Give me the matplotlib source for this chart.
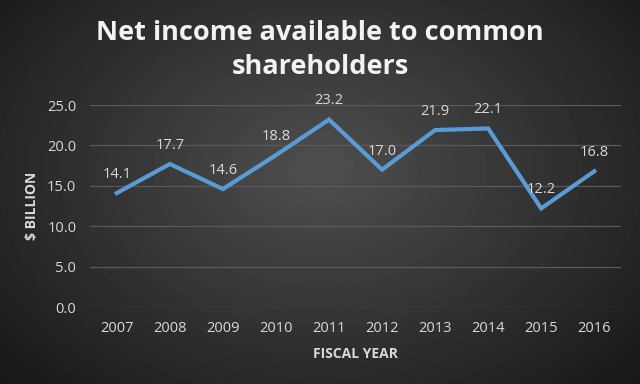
import matplotlib
matplotlib.use("Agg")
import matplotlib.pyplot as plt
import numpy as np

years = ["2007", "2008", "2009", "2010", "2011", "2012", "2013", "2014", "2015", "2016"]
net_income = [14.1, 17.7, 14.6, 18.8, 23.2, 17.0, 21.9, 22.1, 12.2, 16.8]
y_ticks = [0, 5, 10, 15, 20, 25]

plt.rcParams["font.family"] = ["Open Sans", "DejaVu Sans"]
text_color = "#d9d9d9"

fig = plt.figure(figsize=(6.4, 3.84), dpi=100)

# radial gradient background
bg = fig.add_axes([0, 0, 1, 1], zorder=0)
yy, xx = np.mgrid[0:384, 0:640]
r = np.sqrt(((xx - 320) / 420) ** 2 + ((yy - 170) / 300) ** 2)
shade = np.clip(0.31 - 0.21 * r, 0.08, 0.31)
bg.imshow(shade, cmap="gray", vmin=0, vmax=1, aspect="auto", extent=[0, 1, 0, 1])
bg.axis("off")

ax = fig.add_axes([0.141, 0.2005, 0.829, 0.526], zorder=1)
ax.patch.set_alpha(0)
x = np.arange(len(years))
ax.plot(x, net_income, color="#5b9bd5", linewidth=3, solid_joinstyle="miter")
for xi, v in zip(x, net_income):
    ax.annotate(f"{v:.1f}", (xi, v), xytext=(0, 8), textcoords="offset points",
                ha="center", va="bottom", color=text_color, fontsize=10.5)

ax.set_xlim(-0.5, len(years) - 0.5)
ax.set_ylim(0, 25)
ax.set_yticks(y_ticks)
ax.set_yticklabels([f"{t:.1f}" for t in y_ticks])
ax.set_xticks(x)
ax.set_xticklabels(years)
ax.grid(axis="y", color="#5a5a5a", linewidth=0.9)
ax.set_axisbelow(True)
for s in ax.spines.values():
    s.set_visible(False)
ax.tick_params(length=0, colors=text_color, labelsize=10.5, pad=10)

ax.set_xlabel("FISCAL YEAR", color=text_color, fontsize=10, fontweight="bold", labelpad=8)
ax.set_ylabel("$ BILLION", color=text_color, fontsize=10, fontweight="bold", labelpad=6)

fig.text(0.5, 0.87, "Net income available to common\nshareholders", ha="center", va="center",
         color="#f2f2f2", fontsize=19.5, fontweight="bold", linespacing=1.4)

fig.savefig("out.png", dpi=100)
